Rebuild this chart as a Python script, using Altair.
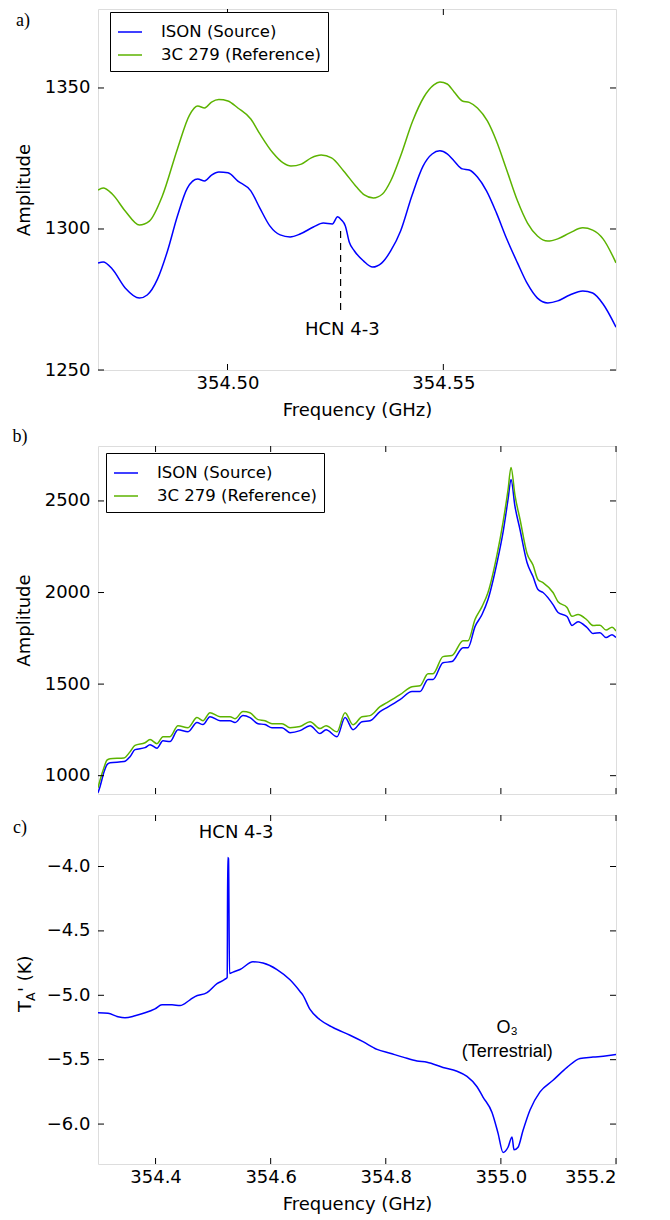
import altair as alt
import pandas as pd

BLUE = "#0000ff"
GREEN = "#5cb300"
SERIES = ["ISON (Source)", "3C 279 (Reference)"]

# ---------------- Panel a ----------------
a_ref_freq = [354.4700, 354.4712, 354.4733, 354.4763, 354.4796, 354.4819, 354.4849, 354.4884, 354.4912, 354.4931,
              354.4947, 354.4963, 354.4980, 354.5001, 354.5024, 354.5054, 354.5075, 354.5105, 354.5129, 354.5147,
              354.5171, 354.5194, 354.5217, 354.5241, 354.5269, 354.5299, 354.5317, 354.5338, 354.5359, 354.5378,
              354.5401, 354.5429, 354.5455, 354.5478, 354.5492, 354.5509, 354.5525, 354.5544, 354.5560, 354.5579,
              354.5602, 354.5623, 354.5646, 354.5672, 354.5695, 354.5718, 354.5742, 354.5765, 354.5793, 354.5823,
              354.5846, 354.5870, 354.5900]
a_ref_amp = [1313.8, 1314.5, 1312.4, 1306.4, 1301.4, 1302.8, 1311.7, 1328.4, 1340.4, 1343.6,
             1342.9, 1345.0, 1345.9, 1345.4, 1342.9, 1339.0, 1333.7, 1327.0, 1323.4, 1322.3,
             1323.0, 1325.2, 1326.2, 1325.2, 1320.6, 1314.9, 1312.1, 1311.0, 1312.4, 1317.0,
             1325.9, 1338.3, 1346.8, 1351.1, 1352.1, 1351.4, 1348.6, 1345.4, 1344.9, 1342.9,
             1338.3, 1331.2, 1321.3, 1309.9, 1302.1, 1297.5, 1295.7, 1296.5, 1298.6, 1300.4,
             1299.6, 1296.5, 1288.0]

a_src_freq = [354.4700, 354.4712, 354.4733, 354.4763, 354.4796, 354.4814, 354.4838, 354.4861, 354.4884, 354.4907,
              354.4931, 354.4947, 354.4963, 354.4980, 354.5001, 354.5024, 354.5054, 354.5075, 354.5098, 354.5122,
              354.5145, 354.5168, 354.5199, 354.5222, 354.5243, 354.5255, 354.5264, 354.5273, 354.5282, 354.5294,
              354.5315, 354.5336, 354.5357, 354.5378, 354.5401, 354.5427, 354.5453, 354.5474, 354.5492, 354.5509,
              354.5525, 354.5544, 354.5560, 354.5579, 354.5600, 354.5623, 354.5646, 354.5672, 354.5695, 354.5718,
              354.5742, 354.5765, 354.5793, 354.5823, 354.5846, 354.5870, 354.5900]
a_src_amp = [1287.9, 1288.3, 1285.8, 1279.1, 1275.5, 1276.6, 1282.3, 1292.2, 1304.6, 1314.5,
             1317.7, 1317.0, 1319.1, 1320.2, 1319.9, 1317.0, 1313.5, 1307.4, 1301.1, 1297.9,
             1297.2, 1298.2, 1300.7, 1302.1, 1301.8, 1304.3, 1303.2, 1301.1, 1295.4, 1292.2,
             1288.7, 1286.5, 1287.9, 1292.2, 1299.3, 1311.7, 1322.3, 1326.6, 1327.7, 1326.6,
             1324.1, 1321.3, 1320.9, 1318.4, 1313.5, 1305.7, 1296.8, 1287.9, 1280.5, 1275.5,
             1273.8, 1274.5, 1276.6, 1278.0, 1277.3, 1273.4, 1265.2]

a_xticks = [354.50, 354.55]
a_yticks = [1250, 1300, 1350]
a_marker_freq = [354.5262]
a_marker_top = [1299.3]
a_marker_bottom = [1270.2]
a_label_freq = [354.5266]
a_label_amp = [1264.2]
a_label_text = ["HCN 4-3"]

# ---------------- Panel b ----------------
b_freq = [354.3000, 354.3035, 354.3104, 354.3156, 354.3209, 354.3452, 354.3556, 354.3643, 354.3817, 354.3904,
          354.4025, 354.4129, 354.4251, 354.4390, 354.4564, 354.4720, 354.4824, 354.4946, 354.5120, 354.5294,
          354.5380, 354.5519, 354.5641, 354.5780, 354.5902, 354.6023, 354.6197, 354.6336, 354.6510, 354.6684,
          354.6857, 354.6962, 354.7153, 354.7292, 354.7431, 354.7587, 354.7726, 354.7900, 354.8021, 354.8247,
          354.8456, 354.8595, 354.8734, 354.8821, 354.8994, 354.9151, 354.9342, 354.9429, 354.9550, 354.9672,
          354.9776, 354.9933, 355.0037, 355.0124, 355.0176, 355.0245, 355.0332, 355.0454, 355.0558, 355.0645,
          355.0732, 355.0906, 355.0993, 355.1149, 355.1236, 355.1340, 355.1496, 355.1601, 355.1722, 355.1827,
          355.1931, 355.2000]
b_src_amp = [907, 940, 1020, 1060, 1071, 1077, 1104, 1142, 1153, 1169,
             1150, 1191, 1186, 1251, 1240, 1290, 1279, 1322, 1300, 1300,
             1290, 1328, 1317, 1284, 1279, 1262, 1262, 1235, 1246, 1273,
             1230, 1251, 1213, 1317, 1251, 1295, 1300, 1350, 1372, 1415,
             1459, 1459, 1525, 1525, 1617, 1623, 1699, 1699, 1814, 1880,
             1962, 2164, 2328, 2508, 2617, 2470, 2344, 2164, 2087, 2016,
             2000, 1934, 1891, 1869, 1820, 1841, 1809, 1776, 1781, 1754,
             1770, 1754]
b_ref_amp = [934, 975, 1045, 1085, 1093, 1097, 1130, 1165, 1180, 1197,
             1175, 1213, 1213, 1273, 1262, 1317, 1300, 1344, 1322, 1322,
             1311, 1350, 1344, 1306, 1300, 1284, 1284, 1262, 1268, 1295,
             1257, 1273, 1240, 1344, 1278, 1322, 1328, 1377, 1399, 1442,
             1486, 1491, 1557, 1557, 1650, 1656, 1737, 1737, 1853, 1923,
             2000, 2207, 2383, 2560, 2683, 2530, 2400, 2213, 2150, 2070,
             2054, 2000, 1950, 1918, 1870, 1880, 1850, 1820, 1822, 1795,
             1810, 1790]
b_xticks = [354.4, 354.6, 354.8, 355.0, 355.2]
b_yticks = [1000, 1500, 2000, 2500]

# ---------------- Panel c ----------------
c_freq = [354.3000, 354.3174, 354.3348, 354.3469, 354.3643, 354.3817, 354.3990, 354.4112, 354.4286, 354.4425,
          354.4599, 354.4685, 354.4894, 354.5068, 354.5207, 354.5245, 354.5254, 354.5268, 354.5285, 354.5346,
          354.5467, 354.5693, 354.5867, 354.6110, 354.6336, 354.6510, 354.6562, 354.6684, 354.6857, 354.7083,
          354.7379, 354.7604, 354.7848, 354.8074, 354.8299, 354.8543, 354.8716, 354.8994, 354.9238, 354.9411,
          354.9585, 354.9689, 354.9846, 354.9950, 355.0037, 355.0124, 355.0193, 355.0228, 355.0298, 355.0384,
          355.0506, 355.0680, 355.0906, 355.1149, 355.1375, 355.1601, 355.1844, 355.2000]
c_ta = [-5.136, -5.140, -5.167, -5.175, -5.159, -5.136, -5.105, -5.074, -5.074, -5.080,
        -5.035, -5.010, -4.980, -4.910, -4.875, -4.860, -3.930, -3.940, -4.830, -4.820,
        -4.800, -4.740, -4.750, -4.800, -4.880, -4.970, -5.000, -5.110, -5.190, -5.250,
        -5.310, -5.360, -5.420, -5.450, -5.480, -5.510, -5.520, -5.560, -5.590, -5.630,
        -5.710, -5.790, -5.910, -6.070, -6.220, -6.180, -6.100, -6.200, -6.180, -6.050,
        -5.890, -5.750, -5.660, -5.560, -5.490, -5.480, -5.470, -5.460]
c_xticks = [354.4, 354.6, 354.8, 355.0, 355.2]
c_yticks = [-4.0, -4.5, -5.0, -5.5, -6.0]
c_hcn_freq = [354.5400]
c_hcn_ta = [-3.743]
c_o3_freq = [355.011, 355.011]
c_o3_ta = [-5.253, -5.440]
c_o3_text = ["O\u2083", "(Terrestrial)"]

# ---------------- helpers ----------------
W = 518
HA, HB, HC = 361, 348, 349
TICK = 6
FONT = "DejaVu Sans"
FS = 18


def axis(**kw):
    base = dict(domain=False, ticks=False, tickSize=0, grid=False, labelFont=FONT, labelFontSize=FS,
                labelColor="black", titleFont=FONT, titleFontSize=FS, titleFontWeight="normal",
                titleColor="black")
    base.update(kw)
    return alt.Axis(**base)


def inner_ticks(xvals, yvals, xs, ys, h):
    xt = pd.DataFrame({"v": xvals})
    yt = pd.DataFrame({"v": yvals})
    r = dict(color="black", strokeWidth=1)
    return [
        alt.Chart(xt).mark_rule(**r).encode(x=alt.X("v:Q", scale=xs), y=alt.value(h), y2=alt.value(h - TICK)),
        alt.Chart(xt).mark_rule(**r).encode(x=alt.X("v:Q", scale=xs), y=alt.value(0), y2=alt.value(TICK)),
        alt.Chart(yt).mark_rule(**r).encode(y=alt.Y("v:Q", scale=ys), x=alt.value(0), x2=alt.value(TICK)),
        alt.Chart(yt).mark_rule(**r).encode(y=alt.Y("v:Q", scale=ys), x=alt.value(W), x2=alt.value(W - TICK)),
    ]


def panel_label(text, x, y):
    return alt.Chart(pd.DataFrame({"t": [text]})).mark_text(
        font="Liberation Serif", fontSize=18, align="center", baseline="middle", color="black"
    ).encode(text="t:N", x=alt.value(x), y=alt.value(y))


def legend(lx, ly):
    return alt.Legend(orient="none", legendX=lx, legendY=ly, title=None, strokeColor="black",
                      fillColor="white", padding=7, symbolType="stroke", symbolSize=576,
                      symbolStrokeWidth=1.5, labelFont=FONT, labelFontSize=16.5, labelOffset=18,
                      rowPadding=1, labelColor="black")


color_scale = alt.Scale(domain=SERIES, range=[BLUE, GREEN])

# ---------------- build panel a ----------------
xa = alt.Scale(domain=[354.47, 354.59], nice=False, zero=False)
ya = alt.Scale(domain=[1250, 1378], nice=False, zero=False)
dfa = pd.concat([
    pd.DataFrame({"f": a_src_freq, "v": a_src_amp, "s": SERIES[0]}),
    pd.DataFrame({"f": a_ref_freq, "v": a_ref_amp, "s": SERIES[1]}),
])
lines_a = alt.Chart(dfa).mark_line(strokeWidth=1.5, interpolate="monotone", clip=True).encode(
    x=alt.X("f:Q", scale=xa, axis=axis(values=a_xticks, format=".2f", title="Frequency (GHz)",
                                       labelPadding=4, titlePadding=9)),
    y=alt.Y("v:Q", scale=ya, axis=axis(values=a_yticks, format="d", title="Amplitude",
                                       labelPadding=8, titlePadding=11)),
    color=alt.Color("s:N", scale=color_scale, legend=legend(12, 3)),
)
marker_a = alt.Chart(pd.DataFrame({"f": a_marker_freq, "t": a_marker_top, "b": a_marker_bottom})).mark_rule(
    color="black", strokeWidth=1.2, strokeDash=[7, 5]
).encode(x=alt.X("f:Q", scale=xa), y=alt.Y("t:Q", scale=ya), y2="b:Q")
text_a = alt.Chart(pd.DataFrame({"f": a_label_freq, "v": a_label_amp, "t": a_label_text})).mark_text(
    font=FONT, fontSize=FS, color="black", align="center", baseline="middle"
).encode(x=alt.X("f:Q", scale=xa), y=alt.Y("v:Q", scale=ya), text="t:N")
pa = alt.layer(lines_a, marker_a, text_a, *inner_ticks(a_xticks, a_yticks, xa, ya, HA),
               panel_label("a)", -75, 12)).properties(width=W, height=HA)

# ---------------- build panel b ----------------
xb = alt.Scale(domain=[354.3, 355.2], nice=False, zero=False)
yb = alt.Scale(domain=[900, 2800], nice=False, zero=False)
dfb = pd.concat([
    pd.DataFrame({"f": b_freq, "v": b_src_amp, "s": SERIES[0]}),
    pd.DataFrame({"f": b_freq, "v": b_ref_amp, "s": SERIES[1]}),
])
lines_b = alt.Chart(dfb).mark_line(strokeWidth=1.5, interpolate="monotone", clip=True).encode(
    x=alt.X("f:Q", scale=xb, axis=None),
    y=alt.Y("v:Q", scale=yb, axis=axis(values=b_yticks, format="d", title="Amplitude",
                                       labelPadding=8, titlePadding=11)),
    color=alt.Color("s:N", scale=color_scale, legend=legend(8, 7)),
)
pb = alt.layer(lines_b, *inner_ticks(b_xticks, b_yticks, xb, yb, HB),
               panel_label("b)", -78, -9)).properties(width=W, height=HB)

# ---------------- build panel c ----------------
xc = alt.Scale(domain=[354.3, 355.2], nice=False, zero=False)
yc = alt.Scale(domain=[-6.31, -3.6], nice=False, zero=False)
dfc = pd.DataFrame({"f": c_freq, "v": c_ta})
line_c = alt.Chart(dfc).mark_line(strokeWidth=1.5, color=BLUE, clip=True, interpolate="monotone").encode(
    x=alt.X("f:Q", scale=xc, axis=axis(values=c_xticks, format=".1f", title="Frequency (GHz)",
                                       labelPadding=4, titlePadding=9)),
    y=alt.Y("v:Q", scale=yc, axis=axis(values=c_yticks, format=".1f", title=None, labelPadding=8)),
)
hcn_c = alt.Chart(pd.DataFrame({"f": c_hcn_freq, "v": c_hcn_ta, "t": ["HCN 4-3"]})).mark_text(
    font=FONT, fontSize=FS, color="black", align="center", baseline="middle"
).encode(x=alt.X("f:Q", scale=xc), y=alt.Y("v:Q", scale=yc), text="t:N")
o3_c = alt.Chart(pd.DataFrame({"f": c_o3_freq, "v": c_o3_ta, "t": c_o3_text})).mark_text(
    font="Liberation Sans", fontSize=18, color="black", align="center", baseline="middle"
).encode(x=alt.X("f:Q", scale=xc), y=alt.Y("v:Q", scale=yc), text="t:N")


def ytitle_piece(text, x, y, size):
    return alt.Chart(pd.DataFrame({"t": [text]})).mark_text(
        font=FONT, fontSize=size, angle=270, align="left", baseline="alphabetic", color="black"
    ).encode(text="t:N", x=alt.value(x), y=alt.value(y))


spacer = alt.Chart(pd.DataFrame({"t": [0]})).mark_rule(strokeOpacity=0).encode(
    x=alt.value(0), y=alt.value(-12), y2=alt.value(0))

pc = alt.layer(line_c, hcn_c, o3_c, *inner_ticks(c_xticks, c_yticks, xc, yc, HC),
               ytitle_piece("T", -67, 197, 18), ytitle_piece("A", -63, 186, 12.6),
               ytitle_piece("' (K)", -67, 177, 18),
               panel_label("c)", -78, 13), spacer).properties(width=W, height=HC)

chart = alt.vconcat(pa, pb, pc, spacing=7).resolve_scale(color="independent").properties(
    padding={"left": 4, "top": 0, "right": 5, "bottom": 5}
).configure_view(stroke="black", strokeWidth=1.5).configure(font=FONT)

chart.save("out.html", embed_options={"renderer": "svg", "actions": False})
